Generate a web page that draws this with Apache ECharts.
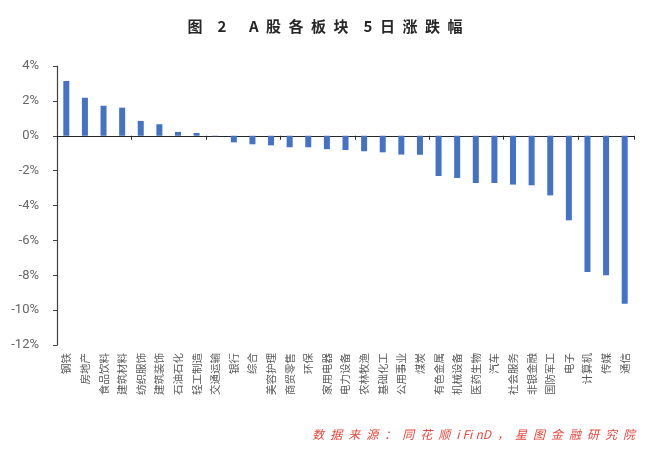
<!DOCTYPE html>
<html>
<head>
<meta charset="utf-8">
<script src="https://cdn.jsdelivr.net/npm/echarts@6/dist/echarts.min.js"></script>
<style>
html,body{margin:0;padding:0;background:#fff;}
#c{width:650px;height:455px;}
</style>
</head>
<body>
<div id="c"></div>
<script>
const categories = ['钢铁','房地产','食品饮料','建筑材料','纺织服饰','建筑装饰','石油石化','轻工制造','交通运输','银行','综合','美容护理','商贸零售','环保','家用电器','电力设备','农林牧渔','基础化工','公用事业','煤炭','有色金属','机械设备','医药生物','汽车','社会服务','非银金融','国防军工','电子','计算机','传媒','通信'];
const values = [3.14, 2.18, 1.72, 1.61, 0.85, 0.66, 0.22, 0.16, -0.03, -0.38, -0.49, -0.55, -0.66, -0.66, -0.77, -0.82, -0.89, -0.95, -1.08, -1.09, -2.31, -2.42, -2.71, -2.71, -2.80, -2.84, -3.42, -4.85, -7.81, -8.00, -9.63];
const yMin = -12, yMax = 4, yStep = 2;
const titleText = '图\u2002\u20022\u2002\u2002\u2002A\u2002股\u2002各\u2002板\u2002块\u2002\u20025\u2002日\u2002涨\u2002跌\u2002幅';
const sourceText = '数\u2002据\u2002来\u2002源\u2002：\u2002同\u2002花\u2002顺\u2002i\u2005Fi\u2005nD\u2002，\u2002星\u2002图\u2002金\u2002融\u2002研\u2002究\u2002院';

const font = '"Noto Sans CJK SC", "Noto Sans", sans-serif';
const chart = echarts.init(document.getElementById('c'), null, {renderer: 'canvas'});
chart.setOption({
  animation: false,
  backgroundColor: '#fff',
  textStyle: {fontFamily: font},
  title: {
    text: titleText,
    left: 'center',
    top: 14,
    textStyle: {fontSize: 15, fontWeight: 'bold', color: '#262626', fontFamily: font}
  },
  graphic: [{
    type: 'text',
    right: 15,
    top: 428,
    style: {
      text: sourceText,
      fill: '#e8453c',
      font: 'italic 12px ' + font
    }
  }],
  grid: {left: 57, right: 16, top: 66, bottom: 110, containLabel: false},
  xAxis: [{
    type: 'category',
    data: categories,
    position: 'bottom',
    axisLine: {onZero: true, lineStyle: {color: '#262626', width: 1}},
    axisTick: {show: true, length: 4, lineStyle: {color: '#262626'}},
    axisLabel: {show: false},
    splitLine: {show: false}
  }, {
    type: 'category',
    data: categories,
    position: 'bottom',
    axisLine: {show: false, onZero: false},
    axisTick: {show: false},
    axisLabel: {show: true, rotate: 90, interval: 0, margin: 8, fontSize: 10.5, color: '#595959', fontFamily: font},
    splitLine: {show: false}
  }],
  yAxis: {
    type: 'value',
    min: yMin,
    max: yMax,
    interval: yStep,
    axisLine: {show: true, lineStyle: {color: '#404040', width: 1.2}},
    axisTick: {show: true, length: 4, lineStyle: {color: '#404040'}},
    axisLabel: {formatter: v => v + '%', fontSize: 13, color: '#666', margin: 18, fontFamily: 'Roboto, "Noto Sans", sans-serif'},
    splitLine: {show: false}
  },
  series: [{
    type: 'bar',
    xAxisIndex: 0,
    data: values,
    barWidth: 6,
    itemStyle: {color: '#4472C4'}
  }]
});
</script>
</body>
</html>
